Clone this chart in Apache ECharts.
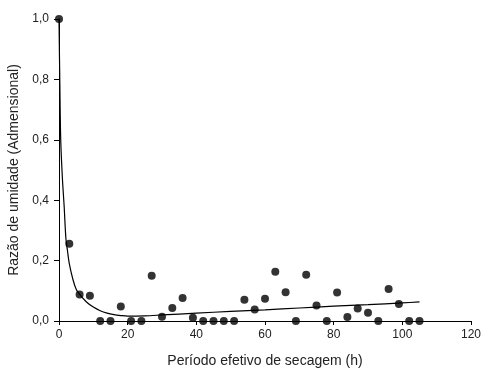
<!DOCTYPE html>
<html>
<head>
<meta charset="utf-8">
<script src="https://cdn.jsdelivr.net/npm/echarts@6/dist/echarts.min.js"></script>
<style>
  html, body { margin: 0; padding: 0; background: #fff; }
  #chart { width: 482px; height: 369px; }
</style>
</head>
<body>
<div id="chart"></div>
<script>
// observed points (h, moisture ratio)
const dryingTime = [0, 3, 6, 9, 12, 15, 18, 21, 24, 27, 30, 33, 36, 39, 42, 45, 48, 51,
  54, 57, 60, 63, 66, 69, 72, 75, 78, 81, 84, 87, 90, 93, 96, 99, 102, 105];
const moistureRatio = [1.0, 0.256, 0.088, 0.084, 0, 0, 0.048, 0, 0, 0.150, 0.014, 0.043, 0.076, 0.011, 0, 0, 0, 0,
  0.070, 0.038, 0.074, 0.163, 0.095, 0, 0.153, 0.051, 0, 0.094, 0.013, 0.041, 0.027, 0, 0.106, 0.056, 0, 0];

// fitted curve
const fitTime = [0, 0.25, 0.5, 1, 1.5, 2, 2.5, 3, 4, 5, 6, 8, 10, 12, 14, 16, 18, 20,
  25, 30, 40, 50, 60, 70, 80, 90, 100, 105];
const fitRatio = [1.0, 0.78, 0.6, 0.47, 0.38, 0.275, 0.23, 0.19, 0.14, 0.105, 0.088, 0.063, 0.046, 0.034, 0.026, 0.021, 0.018, 0.016,
  0.017, 0.020, 0.026, 0.032, 0.037, 0.043, 0.049, 0.054, 0.060, 0.063];

const xTicks = { min: 0, max: 120, step: 20 };
const yTicks = { min: 0, max: 1, step: 0.2 };

const chart = echarts.init(document.getElementById('chart'));

const font = 'Liberation Sans, Arial, sans-serif';

chart.setOption({
  animation: false,
  grid: { left: 59, right: 11, top: 19, bottom: 48, outerBoundsMode: 'none' },
  xAxis: {
    type: 'value',
    min: xTicks.min,
    max: xTicks.max,
    interval: xTicks.step,
    name: 'Período efetivo de secagem (h)',
    nameLocation: 'center',
    nameGap: 33,
    nameTextStyle: { color: '#222', fontSize: 14, fontFamily: font },
    axisLine: { lineStyle: { color: '#000', width: 1 } },
    axisTick: { length: 4, lineStyle: { color: '#000' } },
    axisLabel: { color: '#222', fontSize: 12, fontFamily: font, margin: 8 },
    splitLine: { show: false }
  },
  yAxis: {
    type: 'value',
    min: yTicks.min,
    max: yTicks.max,
    interval: yTicks.step,
    name: 'Razão de umidade (Admensional)',
    nameLocation: 'center',
    nameGap: 31,
    nameTextStyle: { color: '#222', fontSize: 14, fontFamily: font },
    axisLine: { show: true, lineStyle: { color: '#000', width: 1 } },
    axisTick: { show: true, length: 5, lineStyle: { color: '#000' } },
    axisLabel: {
      color: '#222', fontSize: 12, fontFamily: font, margin: 10,
      formatter: v => v.toFixed(1).replace('.', ',')
    },
    splitLine: { show: false }
  },
  series: [
    {
      name: 'ajuste',
      type: 'line',
      data: fitTime.map((t, i) => [t, fitRatio[i]]),
      smooth: 0.3,
      showSymbol: false,
      lineStyle: { color: '#000', width: 1.2 },
      z: 2
    },
    {
      name: 'observado',
      type: 'scatter',
      data: dryingTime.map((t, i) => [t, moistureRatio[i]]),
      symbolSize: 8,
      itemStyle: { color: '#000' },
      clip: false,
      z: 3
    }
  ]
});
</script>
</body>
</html>
